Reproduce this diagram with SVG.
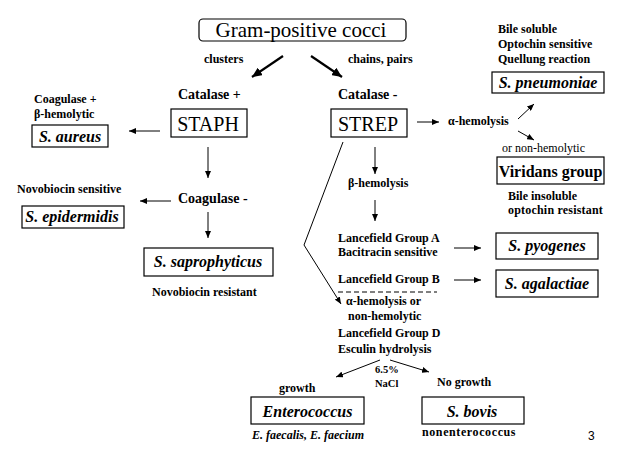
<svg xmlns="http://www.w3.org/2000/svg" width="631" height="470" viewBox="0 0 631 470">
<defs>
<style>
text{font-family:"Liberation Serif","Times New Roman",serif;fill:#000}
.lbl{font-size:12px;font-weight:bold}
.reg{font-size:12px}
.cat{font-size:14px;font-weight:bold}
.sp{font-size:16px;font-weight:bold;font-style:italic}
.big{font-size:20px}
.box{fill:#fff;stroke:#000;stroke-width:1.2}
.ln{fill:none;stroke:#000;stroke-width:1}
.thick{fill:none;stroke:#000;stroke-width:2.2}
</style>
<marker id="ah" markerWidth="7" markerHeight="6" refX="7" refY="3" orient="auto" markerUnits="userSpaceOnUse">
<path d="M0,0 L7,3 L0,6 Z" fill="#000"/>
</marker>
<marker id="ahb" markerWidth="10" markerHeight="9" refX="10" refY="4.5" orient="auto" markerUnits="userSpaceOnUse">
<path d="M0,0 L10,4.5 L0,9 Z" fill="#000"/>
</marker>
</defs>
<rect width="631" height="470" fill="#fff"/>

<g id="connectors">
<line class="thick" x1="283" y1="56" x2="252" y2="77" marker-end="url(#ahb)"/>
<line class="thick" x1="311" y1="56" x2="342" y2="77" marker-end="url(#ahb)"/>
<line class="ln" x1="160" y1="131" x2="129" y2="131" marker-end="url(#ah)"/>
<line class="ln" x1="208" y1="147" x2="208" y2="178" marker-end="url(#ah)"/>
<line class="ln" x1="171" y1="201" x2="140" y2="201" marker-end="url(#ah)"/>
<line class="ln" x1="208" y1="212" x2="208" y2="238" marker-end="url(#ah)"/>
<line class="ln" x1="417" y1="122" x2="439" y2="122" marker-end="url(#ah)"/>
<line class="ln" x1="518" y1="119" x2="534" y2="104" marker-end="url(#ah)"/>
<line class="ln" x1="518" y1="131" x2="534" y2="140" marker-end="url(#ah)"/>
<line class="ln" x1="375" y1="147" x2="375" y2="174" marker-end="url(#ah)"/>
<line class="ln" x1="375" y1="200" x2="375" y2="221" marker-end="url(#ah)"/>
<line class="ln" x1="454" y1="248" x2="481" y2="248" marker-end="url(#ah)"/>
<line class="ln" x1="454" y1="280" x2="481" y2="280" marker-end="url(#ah)"/>
<line class="ln" x1="338" y1="292" x2="437" y2="292" stroke-dasharray="5,3"/>
<polyline class="ln" points="343,142 304,245 341,304" marker-end="url(#ah)"/>
<line class="ln" x1="380" y1="360" x2="336" y2="377" marker-end="url(#ah)"/>
<line class="ln" x1="390" y1="360" x2="429" y2="372" marker-end="url(#ah)"/>
</g>

<g id="gram-positive">
<rect class="box" x="199" y="19" width="207" height="22" rx="4"/>
<text x="301" y="37" font-size="21" text-anchor="middle">Gram-positive cocci</text>
</g>
<g id="labels-top">
<text class="lbl" x="204" y="63">clusters</text>
<text class="lbl" x="348" y="63">chains, pairs</text>
<text class="cat" x="178" y="99">Catalase +</text>
<text class="cat" x="338" y="99">Catalase -</text>
</g>
<g id="staph">
<rect class="box" x="171" y="109" width="76" height="28"/>
<text class="big" x="208" y="131" text-anchor="middle">STAPH</text>
</g>
<g id="strep">
<rect class="box" x="331" y="109" width="76" height="28"/>
<text class="big" x="368" y="131" text-anchor="middle">STREP</text>
</g>
<g id="s-aureus">
<text class="lbl" x="34" y="103">Coagulase +</text>
<text class="lbl" x="34" y="118">β-hemolytic</text>
<rect class="box" x="32" y="125" width="76" height="22"/>
<text class="sp" x="70" y="142" text-anchor="middle">S. aureus</text>
</g>
<g id="coagulase-neg">
<text class="cat" x="178" y="203">Coagulase -</text>
</g>
<g id="s-epidermidis">
<text class="lbl" x="17" y="193">Novobiocin sensitive</text>
<rect class="box" x="22" y="206" width="102" height="22"/>
<text class="sp" x="72" y="222" text-anchor="middle">S. epidermidis</text>
</g>
<g id="s-saprophyticus">
<rect class="box" x="144" y="248" width="129" height="28"/>
<text class="sp" x="208" y="267" text-anchor="middle">S. saprophyticus</text>
<text class="lbl" x="152" y="296">Novobiocin resistant</text>
</g>
<g id="s-pneumoniae">
<text class="lbl" x="498" y="33">Bile soluble</text>
<text class="lbl" x="498" y="48">Optochin sensitive</text>
<text class="lbl" x="498" y="63">Quellung reaction</text>
<rect class="box" x="492" y="72" width="112" height="21"/>
<text class="sp" x="548" y="88" text-anchor="middle">S. pneumoniae</text>
</g>
<g id="alpha-hemolysis">
<text class="lbl" x="448" y="125">α-hemolysis</text>
<text class="reg" x="502" y="152">or non-hemolytic</text>
</g>
<g id="viridans">
<rect class="box" x="497" y="157" width="107" height="27"/>
<text x="550.5" y="177" font-size="16" font-weight="bold" text-anchor="middle">Viridans group</text>
<text class="lbl" x="508" y="200">Bile insoluble</text>
<text class="lbl" x="508" y="214" letter-spacing="0.2">optochin resistant</text>
</g>
<g id="beta-hemolysis">
<text class="lbl" x="348" y="187">β-hemolysis</text>
</g>
<g id="group-a">
<text class="lbl" x="338" y="242">Lancefield Group A</text>
<text class="lbl" x="338" y="256">Bacitracin sensitive</text>
</g>
<g id="s-pyogenes">
<rect class="box" x="496" y="233" width="102" height="26"/>
<text class="sp" x="547" y="251" text-anchor="middle">S. pyogenes</text>
</g>
<g id="group-b">
<text class="lbl" x="338" y="283">Lancefield Group B</text>
</g>
<g id="s-agalactiae">
<rect class="box" x="496" y="270" width="102" height="27"/>
<text class="sp" x="547" y="289" text-anchor="middle">S. agalactiae</text>
</g>
<g id="group-d">
<text class="lbl" x="346" y="305">α-hemolysis or</text>
<text class="lbl" x="348" y="320">non-hemolytic</text>
<text class="lbl" x="338" y="337">Lancefield Group D</text>
<text class="lbl" x="338" y="353">Esculin hydrolysis</text>
<text x="375" y="373" font-size="10.5" font-weight="bold">6.5%</text>
<text x="375" y="387" font-size="10.5" font-weight="bold">NaCl</text>
</g>
<g id="enterococcus">
<text class="lbl" x="279" y="392">growth</text>
<rect class="box" x="251" y="397" width="113" height="27"/>
<text class="sp" x="307.5" y="417" text-anchor="middle">Enterococcus</text>
<text x="252" y="439" font-size="12" font-weight="bold" font-style="italic">E. faecalis, E. faecium</text>
</g>
<g id="s-bovis">
<text class="lbl" x="437" y="386">No growth</text>
<rect class="box" x="422" y="397" width="102" height="27"/>
<text class="sp" x="472" y="417" text-anchor="middle">S. bovis</text>
<text class="lbl" x="422" y="436" letter-spacing="0.6">nonenterococcus</text>
</g>
<g id="page-number">
<text x="588" y="440" font-size="12" style="font-family:'Liberation Sans',Arial,sans-serif">3</text>
</g>
</svg>
